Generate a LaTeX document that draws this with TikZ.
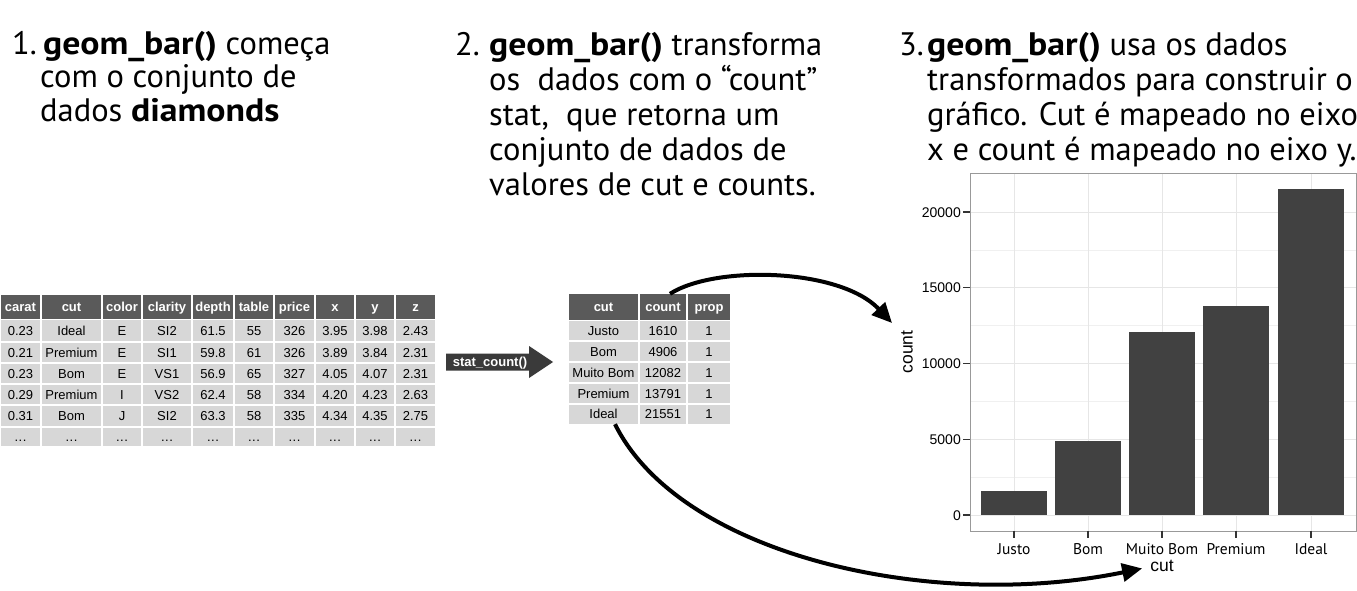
\documentclass[tikz,border=0pt]{standalone}
\usepackage{fontspec}
\setmainfont{PT Sans}[BoldFeatures={FakeStretch=1.1}]
\newfontfamily\arial{Liberation Sans}
\usetikzlibrary{arrows.meta}
\definecolor{hdr}{HTML}{5A5A5A}
\definecolor{cellc}{HTML}{D7D7D7}
\definecolor{barc}{HTML}{414141}
\definecolor{gridc}{HTML}{F0F0F0}
\definecolor{gridm}{HTML}{E6E6E6}
\definecolor{statc}{HTML}{3A3A3A}
\def\cxA{{20.5,71.5,122,167,213,254,294.5,335,375,415.5}}
\def\cxB{{603.5,663,709}}
\newcommand\mydots{.\kern0.5pt.\kern0.5pt.}
\newcommand\trowA[4]{\foreach [count=\c from 0] \t in {#4} {\pgfmathsetmacro\xx{\cxA[\c]}\node[#2,name=#1-\c] at (\xx,#3) {\t};}}
\newcommand\trowB[4]{\foreach [count=\c from 0] \t in {#4} {\pgfmathsetmacro\xx{\cxB[\c]}\node[#2,name=#1-\c] at (\xx,#3) {\t};}}
\begin{document}
\begin{tikzpicture}[x=1pt,y=-1pt,
 heading/.style={anchor=north west,inner sep=0pt,font=\fontsize{32.5}{35}\selectfont},
 headingA/.style={anchor=north west,inner sep=0pt,font=\fontsize{32.5}{33.5}\selectfont},
 hdrtext/.style={anchor=base,inner sep=0pt,text=white,font=\arial\bfseries\fontsize{13}{13}\selectfont},
 datatext/.style={anchor=base,inner sep=0pt,font=\arial\fontsize{13}{13}\selectfont},
 ticklab/.style={anchor=base east,inner sep=0pt,font=\arial\fontsize{14}{14}\selectfont},
 xlab/.style={anchor=base,inner sep=0pt,font=\fontsize{15.5}{15.5}\selectfont},
 axtitle/.style={inner sep=0pt,font=\arial\fontsize{17.5}{17.5}\selectfont},
 curved/.style={line width=4pt,-{Triangle[length=20pt,width=18pt]}}]
\useasboundingbox[fill=white] (0,0) rectangle (1357,591);

% headings
\node[headingA,name=h1] at (12,30.5) {\begin{tabular}{@{}l@{}l@{}}\makebox[28pt][l]{1.}&\hspace{3pt}\textbf{geom\_bar()} começa\\ &com o conjunto de\\ &dados \textbf{diamonds}\end{tabular}};
\node[heading,name=h2] at (455,30.5) {\begin{tabular}{@{}l@{}l@{}}\makebox[34pt][l]{2.}&\textbf{geom\_bar()} transforma\\ &os\ \ dados com o “count”\\ &stat,\ \ que retorna um\\ &conjunto de dados de\\ &valores de cut e counts.\end{tabular}};
\node[heading,name=h3] at (899,30.5) {\begin{tabular}{@{}l@{}l@{}}\makebox[28pt][l]{3.}&\textbf{geom\_bar()} usa os dados\\ &transformados para construir o\\ &gráfico. Cut é mapeado no eixo\\ &x e count é mapeado no eixo y.\end{tabular}};

% left table
\foreach \a/\b in {0/41,41/102,102/142,142/192,192/234,234/274,274/315,315/355,355/395,395/436} {
  \fill[hdr] (\a+0.6,295) rectangle (\b-0.6,319.2);
  \foreach \t/\u in {319/342,342/363,363/384,384/405,405/427,427/447}
    \fill[cellc] (\a+0.7,\t+0.8) rectangle (\b-0.7,\u-0.8);
}
\trowA{ah}{hdrtext}{311.7}{carat,cut,color,clarity,depth,table,price,x,y,z}
\trowA{a1}{datatext}{335}{0.23,Ideal,E,SI2,61.5,55,326,3.95,3.98,2.43}
\trowA{a2}{datatext}{357}{0.21,Premium,E,SI1,59.8,61,326,3.89,3.84,2.31}
\trowA{a3}{datatext}{378}{0.23,Bom,E,VS1,56.9,65,327,4.05,4.07,2.31}
\trowA{a4}{datatext}{399}{0.29,Premium,I,VS2,62.4,58,334,4.20,4.23,2.63}
\trowA{a5}{datatext}{420.5}{0.31,Bom,J,SI2,63.3,58,335,4.34,4.35,2.75}
\trowA{a6}{datatext}{441}{\mydots,\mydots,\mydots,\mydots,\mydots,\mydots,\mydots,\mydots,\mydots,\mydots}

% stat_count arrow
\fill[statc] (446,353.5) -- (529,353.5) -- (529,346) -- (553,362) -- (529,378) -- (529,370.5) -- (446,370.5) -- cycle;
\node[hdrtext,name=stat] at (490,366.5) {stat\_count()};

% middle table
\foreach \a/\b in {568/639,639/687,687/731} {
  \fill[hdr] (\a+0.6,294) rectangle (\b-0.6,320.2);
  \foreach \t/\u in {320/341,341/362,362/383,383/404,404/424.5}
    \fill[cellc] (\a+0.7,\t+0.8) rectangle (\b-0.7,\u-0.8);
}
\node[name=tab2,minimum width=163pt,minimum height=130pt,inner sep=0pt] at (649.5,359) {};
\trowB{bh}{hdrtext}{311.5}{cut,count,prop}
\trowB{b1}{datatext}{335}{Justo,1610,1}
\trowB{b2}{datatext}{356}{Bom,4906,1}
\trowB{b3}{datatext}{377}{Muito Bom,12082,1}
\trowB{b4}{datatext}{398}{Premium,13791,1}
\trowB{b5}{datatext}{418.5}{Ideal,21551,1}

% chart (values in thousands, 15.15 px per thousand)
\foreach \v in {2.5,7.5,12.5,17.5} \draw[gridc,line width=0.5pt] (970,{515-\v*15.15}) -- (1356,{515-\v*15.15});
\foreach \v in {0,5,10,15,20} \draw[gridm,line width=0.9pt] (970,{515-\v*15.15}) -- (1356,{515-\v*15.15});
\foreach \xc in {1014,1088,1162,1236,1311} \draw[gridm,line width=0.9pt] (\xc,173) -- (\xc,531);
\foreach \xc/\v [count=\i] in {1014/1.610,1088/4.906,1162/12.082,1236/13.791,1311/21.551}
  \fill[barc] (\xc-33,515) rectangle (\xc+33,{515-\v*15.15});
\draw[gray!80,line width=0.8pt] (970,173) rectangle (1356,531);
\foreach \v/\l [count=\i] in {0/0,5/5000,10/10000,15/15000,20/20000} {
  \draw[black!80,line width=1.3pt] (963,{515-\v*15.15}) -- (970,{515-\v*15.15});
  \node[ticklab,name=yt\i] at (961,{520-\v*15.15}) {\l};
}
\foreach \xc/\l [count=\i] in {1014/Justo,1088/Bom,1162/Muito Bom,1236/Premium,1311/Ideal} {
  \draw[black!80,line width=1.3pt] (\xc,531) -- (\xc,537.5);
  \node[xlab,name=xt\i] at (\xc,554) {\l};
}
\node[axtitle,name=cutlab,anchor=base] at (1162,571) {cut};
\node[axtitle,name=countlab,rotate=90] at (907,352) {count};

% connectors
\coordinate (plotin) at (892,323);
\draw[curved] ([xshift=20.5pt]tab2.north) .. controls (715,265) and (840,268) .. (plotin);
\draw[curved] ([xshift=-34.5pt]tab2.south) .. controls (680,555) and (930,612) .. ([xshift=-8pt,yshift=-3pt]cutlab.west);
\end{tikzpicture}
\end{document}
